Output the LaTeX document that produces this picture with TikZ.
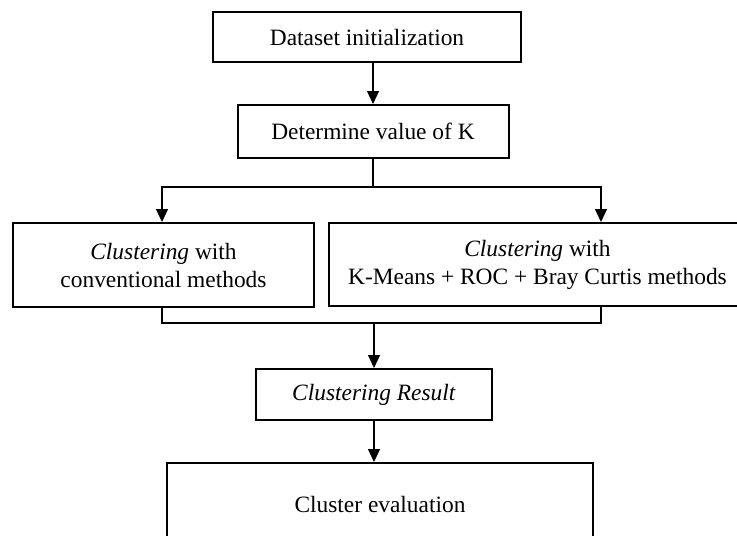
\documentclass[tikz,border=0pt]{standalone}
\usepackage{fontspec}
\setmainfont{Liberation Serif}
\usetikzlibrary{
    arrows.meta,
    positioning,
    calc
}
\tikzset{
    % Arrows
    arrow tip/.tip={Triangle[length=13pt,width=12pt]},
    conn/.style={line width=1.2pt},
    arr/.style={conn,->,>={arrow tip}},
}
\tikzstyle{every node}=[font=\fontsize{23.4}{28}\selectfont]

\begin{document}
\begin{tikzpicture}
        [
            x=1pt,y=-1pt,
            flow box/.style={rectangle,draw,line width=2pt,align=center,inner sep=0pt}
        ]
        \useasboundingbox (0,0) rectangle (737,536);
        \clip (0,0) rectangle (737,536);
        \node[flow box,minimum width=308pt,minimum height=50pt] (init) at (367,37) {Dataset initialization};
        \node[flow box,minimum width=271pt,minimum height=53pt] (detK) at (373,131.5) {Determine value of K};
        \node[flow box,minimum width=301pt,minimum height=84pt] (conv) at (163.5,265) {\textit{Clustering} with\\conventional methods};
        \node[flow box,minimum width=417pt,minimum height=83pt] (ours) at (537.5,264.5) {\textit{Clustering} with\\K-Means + ROC + Bray Curtis methods};
        \node[flow box,minimum width=236pt,minimum height=51pt] (result) at (374,394.5) {\textit{Clustering Result}};
        \node[flow box,minimum width=426pt,minimum height=82pt] (eval) at (380,504) {Cluster evaluation};
        % split and merge points
        \coordinate (split) at (373,187);
        \coordinate (splitL) at (162,187);
        \coordinate (splitR) at (601,187);
        \coordinate (merge) at (374,323);
        \coordinate (mergeL) at (162,323);
        \coordinate (mergeR) at (601,323);
        \draw[arr] ([xshift=6pt]init.south) -- ([xshift=6pt]init.south |- detK.north);
        \draw[conn] (detK.south) -- (split);
        \draw[arr] (split) -- (splitL) -- (splitL |- conv.north);
        \draw[arr] (split) -- (splitR) -- (splitR |- ours.north);
        \draw[conn] (mergeL |- conv.south) -- (mergeL) -- (mergeR) -- (mergeR |- ours.south);
        \draw[arr] (merge) -- (result.north);
        \draw[arr] (result.south) -- (result.south |- eval.north);
    \end{tikzpicture}
\end{document}
